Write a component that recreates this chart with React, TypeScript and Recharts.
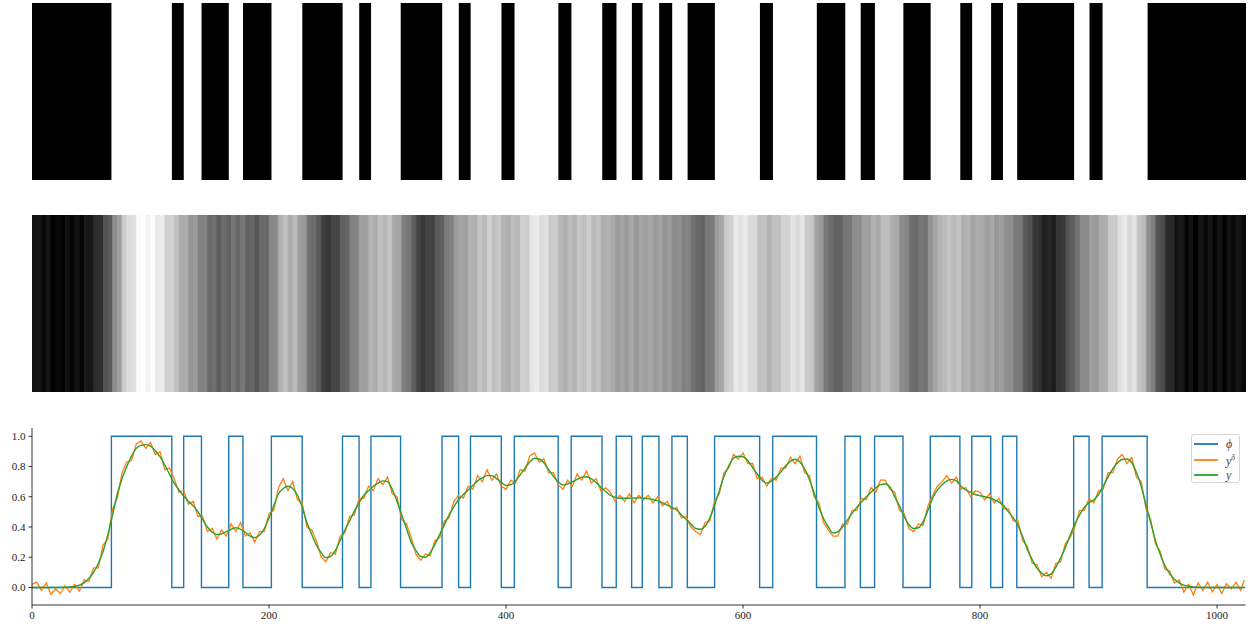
import React from 'react';
import {
  AreaChart, Area, BarChart, Bar, Cell, ComposedChart, Line, XAxis, YAxis, Legend,
} from 'recharts';

// phi switches 0 -> 1 -> 0 ... at these sample positions (starts at 0)
const PHI_EDGES = [67, 118, 128, 143, 166, 178, 202, 228, 262, 276, 286, 311, 346, 360, 370, 396, 407, 444, 455, 481, 493, 506, 515, 529, 540, 553, 576, 614, 625, 662, 686, 699, 711, 735, 758, 783, 793, 809, 819, 831, 879, 892, 903, 941];
const X_MAX = 1024;
const STEP = 4; // sample spacing of the series below (last value at 1023)

// y (smooth), sampled every 4 units from 0..1020, then 1023
const Y_CLEAN = [
  0, 0, 0, 0, 0, 0, 0, 0.001, 0.003, 0.008,
  0.015, 0.03, 0.06, 0.1, 0.16, 0.24, 0.35, 0.48, 0.62, 0.72,
  0.80, 0.87, 0.92, 0.94, 0.945, 0.935, 0.905, 0.865, 0.81, 0.75,
  0.69, 0.645, 0.605, 0.57, 0.54, 0.5, 0.45, 0.4, 0.365, 0.35,
  0.355, 0.37, 0.385, 0.395, 0.385, 0.365, 0.34, 0.33, 0.345, 0.39,
  0.46, 0.54, 0.62, 0.655, 0.67, 0.655, 0.61, 0.53, 0.43, 0.35,
  0.28, 0.23, 0.197, 0.205, 0.245, 0.31, 0.38, 0.44, 0.505, 0.56,
  0.61, 0.64, 0.67, 0.69, 0.705, 0.7, 0.65, 0.57, 0.48, 0.39,
  0.30, 0.245, 0.205, 0.2, 0.23, 0.285, 0.35, 0.415, 0.48, 0.535,
  0.58, 0.615, 0.645, 0.675, 0.705, 0.725, 0.74, 0.74, 0.72, 0.695,
  0.675, 0.68, 0.705, 0.745, 0.79, 0.83, 0.855, 0.85, 0.825, 0.78,
  0.735, 0.7, 0.678, 0.685, 0.698, 0.715, 0.73, 0.732, 0.718, 0.695,
  0.662, 0.635, 0.61, 0.597, 0.59, 0.59, 0.59, 0.592, 0.593, 0.591,
  0.588, 0.582, 0.573, 0.56, 0.545, 0.53, 0.512, 0.48, 0.45, 0.42,
  0.39, 0.385, 0.405, 0.46, 0.545, 0.64, 0.735, 0.805, 0.855, 0.868,
  0.865, 0.84, 0.795, 0.75, 0.71, 0.69, 0.705, 0.73, 0.765, 0.805,
  0.835, 0.848, 0.83, 0.785, 0.715, 0.625, 0.53, 0.455, 0.4, 0.36,
  0.37, 0.4, 0.445, 0.49, 0.53, 0.565, 0.6, 0.63, 0.66, 0.68,
  0.685, 0.665, 0.6, 0.54, 0.468, 0.415, 0.39, 0.395, 0.436, 0.51,
  0.59, 0.645, 0.68, 0.705, 0.715, 0.705, 0.67, 0.645, 0.63, 0.615,
  0.607, 0.6, 0.592, 0.58, 0.565, 0.54, 0.50, 0.46, 0.41, 0.335,
  0.25, 0.185, 0.128, 0.095, 0.077, 0.09, 0.135, 0.195, 0.265, 0.345,
  0.42, 0.48, 0.53, 0.56, 0.58, 0.615, 0.67, 0.73, 0.785, 0.825,
  0.847, 0.85, 0.825, 0.76, 0.67, 0.55, 0.43, 0.31, 0.22, 0.145,
  0.09, 0.055, 0.03, 0.015, 0.008, 0.003, 0.001, 0, 0, 0,
  0, 0, 0, 0, 0, 0,
  0,
];

// y^delta (noisy), same sampling
const Y_NOISY = [
  0.02, 0.035, -0.02, 0.03, -0.045, -0.01, -0.04, 0.01, -0.03, 0.02,
  -0.025, 0.05, 0.04, 0.13, 0.13, 0.28, 0.32, 0.52, 0.59, 0.76,
  0.83, 0.84, 0.95, 0.97, 0.92, 0.96, 0.88, 0.9, 0.78, 0.79,
  0.72, 0.63, 0.64, 0.55, 0.57, 0.47, 0.47, 0.37, 0.39, 0.32,
  0.38, 0.34, 0.42, 0.37, 0.43, 0.34, 0.36, 0.3, 0.37, 0.37,
  0.49, 0.51, 0.66, 0.72, 0.64, 0.7, 0.58, 0.56, 0.4, 0.38,
  0.31, 0.2, 0.17, 0.23, 0.22, 0.34, 0.36, 0.47, 0.48, 0.59,
  0.59, 0.67, 0.64, 0.72, 0.68, 0.73, 0.62, 0.6, 0.45, 0.42,
  0.33, 0.22, 0.18, 0.22, 0.21, 0.31, 0.33, 0.44, 0.46, 0.57,
  0.61, 0.59, 0.67, 0.65, 0.74, 0.7, 0.78, 0.71, 0.75, 0.67,
  0.65, 0.71, 0.69, 0.78, 0.77, 0.87, 0.89, 0.83, 0.85, 0.76,
  0.76, 0.68, 0.65, 0.71, 0.67, 0.75, 0.71, 0.77, 0.69, 0.72,
  0.64, 0.66, 0.63, 0.57, 0.61, 0.57, 0.62, 0.56, 0.61, 0.58,
  0.61, 0.56, 0.6, 0.54, 0.57, 0.51, 0.53, 0.46, 0.47, 0.4,
  0.37, 0.35, 0.43, 0.44, 0.57, 0.62, 0.76, 0.79, 0.88, 0.85,
  0.89, 0.82, 0.82, 0.72, 0.73, 0.67, 0.72, 0.71, 0.79, 0.79,
  0.86, 0.82, 0.87, 0.76, 0.74, 0.6, 0.56, 0.43, 0.38, 0.34,
  0.34, 0.42, 0.42, 0.51, 0.51, 0.59, 0.58, 0.66, 0.63, 0.71,
  0.71, 0.65, 0.63, 0.51, 0.49, 0.39, 0.37, 0.42, 0.41, 0.54,
  0.61, 0.67, 0.7, 0.74, 0.69, 0.73, 0.65, 0.66, 0.6, 0.64,
  0.63, 0.58, 0.62, 0.56, 0.59, 0.52, 0.52, 0.44, 0.44, 0.31,
  0.27, 0.16, 0.15, 0.07, 0.1, 0.06, 0.16, 0.17, 0.29, 0.33,
  0.4, 0.51, 0.51, 0.59, 0.56, 0.64, 0.65, 0.76, 0.76, 0.85,
  0.88, 0.82, 0.86, 0.73, 0.7, 0.52, 0.45, 0.29, 0.24, 0.12,
  0.11, 0.03, 0.05, -0.03, 0.02, -0.05, 0.03, -0.02, 0.035, -0.03,
  0.02, -0.04, 0.025, -0.01, 0.035, -0.02,
  0.05,
];

const Y_TICKS = [0, 0.2, 0.4, 0.6, 0.8, 1.0];
const X_TICKS = [0, 200, 400, 600, 800, 1000];
const Y_DOMAIN: [number, number] = [-0.116, 1.055];

const C_PHI = '#1f77b4';
const C_NOISY = '#ff7f0e';
const C_CLEAN = '#2ca02c';
const SERIF = 'Liberation Serif';

const sampleX = (i: number, n: number) => (i === n - 1 ? X_MAX - 1 : i * STEP);

const phiData = [{ x: 0, phi: 0, inv: 1 }];
PHI_EDGES.forEach((e, i) => {
  const v = i % 2 === 0 ? 1 : 0;
  phiData.push({ x: e, phi: v, inv: 1 - v });
});
phiData.push({ x: X_MAX, phi: 0, inv: 1 });

const cleanData = Y_CLEAN.map((v, i) => ({ x: sampleX(i, Y_CLEAN.length), y: v }));
const noisyData = Y_NOISY.map((v, i) => ({ x: sampleX(i, Y_NOISY.length), yd: v }));

const vMin = Math.min(...Y_NOISY);
const vMax = Math.max(...Y_NOISY);
const grayOf = (v: number) => {
  const g = Math.round(((v - vMin) / (vMax - vMin)) * 255);
  return `rgb(${g},${g},${g})`;
};
// image row: one cell per 4-unit sample (0..1020)
const imageData = Y_NOISY.slice(0, Y_NOISY.length - 1).map((v, i) => ({ x: i * STEP, v, full: 1 }));

const LEGEND_H = 49;

const LegendBox = () => {
  const rows = [
    { c: C_PHI, label: <span>ϕ</span> },
    { c: C_NOISY, label: <span>y<sup style={{ fontSize: 8, verticalAlign: 5 }}>δ</sup></span> },
    { c: C_CLEAN, label: <span>y</span> },
  ];
  return (
    <div style={{
      width: 49, height: LEGEND_H, boxSizing: 'border-box', border: '1px solid #d6d6d6', borderRadius: 3,
      background: 'rgba(255,255,255,0.8)', paddingTop: 1,
    }}>
      {rows.map((r, i) => (
        <div key={i} style={{ display: 'flex', alignItems: 'center', height: 15.7 }}>
          <svg width={26} height={4} style={{ display: 'block' }}>
            <line x1={2} y1={2} x2={26} y2={2} stroke={r.c} strokeWidth={1.8} />
          </svg>
          <div style={{ marginLeft: 8, fontFamily: SERIF, fontStyle: 'italic', fontSize: 12, color: '#444', lineHeight: '12px' }}>
            {r.label}
          </div>
        </div>
      ))}
    </div>
  );
};

const tickStyle = { fontFamily: SERIF, fontSize: 11, fill: '#222', style: { fontFamily: SERIF } };

export default function App() {
  return (
    <div style={{ position: 'relative', width: 1255, height: 626, background: '#fff', overflow: 'hidden' }}>
      <style>{'body{margin:0;overflow:hidden;}'}</style>

      <div style={{ position: 'absolute', left: 32, top: 3 }}>
        <AreaChart width={1214} height={177} data={phiData} margin={{ top: 0, right: 0, bottom: 0, left: 0 }}>
          <XAxis dataKey="x" type="number" domain={[0, X_MAX]} hide />
          <YAxis domain={[0, 1]} hide />
          <Area dataKey="inv" type="stepAfter" stroke="none" fill="#000" fillOpacity={1} isAnimationActive={false} />
        </AreaChart>
      </div>

      <div style={{ position: 'absolute', left: 32, top: 215 }}>
        <BarChart width={1214} height={177} data={imageData} margin={{ top: 0, right: 0, bottom: 0, left: 0 }}
          barCategoryGap={0} barGap={0}>
          <XAxis dataKey="x" hide />
          <YAxis domain={[0, 1]} hide />
          <Bar dataKey="full" isAnimationActive={false}>
            {imageData.map((d, i) => (
              <Cell key={i} fill={grayOf(d.v)} stroke={grayOf(d.v)} strokeWidth={0.6} />
            ))}
          </Bar>
        </BarChart>
      </div>

      <div style={{ position: 'absolute', left: 0, top: 420 }}>
        <ComposedChart width={1255} height={206 + LEGEND_H} margin={{ top: 8, right: 9.5, bottom: 0, left: 0 }}>
          <XAxis dataKey="x" type="number" domain={[0, X_MAX]} allowDataOverflow ticks={X_TICKS}
            tick={tickStyle} tickSize={3.5} tickMargin={3} height={21}
            axisLine={{ stroke: '#000', strokeWidth: 0.8 }} tickLine={{ stroke: '#000', strokeWidth: 0.8 }} />
          <XAxis xAxisId="top" orientation="top" type="number" domain={[0, X_MAX]} tick={false} tickLine={false}
            height={0} axisLine={{ stroke: '#000', strokeWidth: 0.8 }} />
          <YAxis type="number" domain={Y_DOMAIN} allowDataOverflow ticks={Y_TICKS} width={32}
            tickFormatter={(v: number) => v.toFixed(1)} tick={tickStyle} tickSize={3.5} tickMargin={3}
            axisLine={{ stroke: '#000', strokeWidth: 0.8 }} tickLine={{ stroke: '#000', strokeWidth: 0.8 }} />
          <YAxis yAxisId="right" orientation="right" type="number" domain={Y_DOMAIN} tick={false} tickLine={false}
            width={0} axisLine={{ stroke: '#000', strokeWidth: 0.8 }} />
          <Line data={phiData} dataKey="phi" type="stepAfter" stroke={C_PHI} strokeWidth={1.4} dot={false}
            isAnimationActive={false} name="phi" />
          <Line data={noisyData} dataKey="yd" type="linear" stroke={C_NOISY} strokeWidth={1.3} dot={false}
            isAnimationActive={false} name="ydelta" />
          <Line data={cleanData} dataKey="y" type="monotone" stroke={C_CLEAN} strokeWidth={1.4} dot={false}
            isAnimationActive={false} name="y" />
          <Legend verticalAlign="bottom" content={<LegendBox />}
            wrapperStyle={{ position: 'absolute', top: 14, left: 1191, width: 49, height: LEGEND_H }} />
        </ComposedChart>
      </div>
    </div>
  );
}
